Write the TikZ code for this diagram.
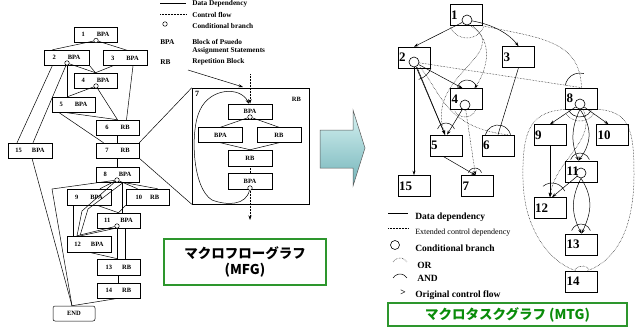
\documentclass[tikz,border=0pt]{standalone}
\usepackage{fontspec}
\setmainfont{Liberation Serif}
\newfontfamily\jpfont{Noto Sans CJK JP}
\usepackage{xcolor}
\usetikzlibrary{arrows.meta,calc}
\definecolor{framegreen}{RGB}{45,150,45}
\definecolor{titlegreen}{RGB}{10,140,10}
\definecolor{arrowtop}{RGB}{215,242,242}
\definecolor{arrowbot}{RGB}{115,180,185}

\begin{document}
\begin{tikzpicture}[x=1pt, y=-1pt, line width=0.5pt, >={Stealth[length=4.5pt,width=3pt]},
        mbox/.style={rectangle, draw, minimum width=43pt, minimum height=15pt, inner sep=0pt, font=\fontsize{6.5}{7}\selectfont\bfseries},
        ibox/.style={mbox, minimum width=44pt},
        tbox/.style={rectangle, draw, line width=0.6pt, minimum height=21pt, text width=30pt, inner sep=1pt, align=left, font=\fontsize{13}{13}\selectfont\bfseries},
        cond/.style={circle, draw, fill=white, inner sep=0pt, minimum size=4.5pt},
        tcond/.style={circle, draw, line width=0.6pt, inner sep=0pt, minimum size=10pt},
        ctrl/.style={densely dotted},
        leg/.style={anchor=west, inner sep=0pt, align=left, font=\fontsize{7.3}{8.5}\selectfont\bfseries},
        tleg/.style={anchor=west, inner sep=0pt, font=\fontsize{9.5}{10}\selectfont\bfseries},
        titlebox/.style={draw=framegreen, line width=1.2pt, inner sep=0pt, align=center, font=\jpfont\fontsize{13.5}{16}\selectfont\bfseries}]
        \useasboundingbox (0,0) rectangle (637,327);

        \node (m1) [mbox] at (95.5,34.5) {1\hspace{12pt}BPA};
        \node (m2) [mbox, minimum width=45pt] at (66.5,57.5) {2\hspace{12pt}BPA};
        \node (m3) [mbox, minimum width=44pt] at (125,58) {3\hspace{12pt}BPA};
        \node (m4) [mbox] at (95.5,80.5) {4\hspace{12pt}BPA};
        \node (m5) [mbox] at (73.5,104.5) {5\hspace{12pt}BPA};
        \node (m6) [mbox] at (117.5,127.5) {6\hspace{12pt}RB};
        \node (m7) [mbox] at (117.5,150.5) {7\hspace{12pt}RB};
        \node (m15) [mbox, minimum width=44pt] at (30,150.5) {15\hspace{10pt}BPA};
        \node (m8) [mbox] at (117.5,174.5) {8\hspace{12pt}BPA};
        \node (m9) [mbox, minimum width=44pt, minimum height=16pt] at (89,197) {9\hspace{12pt}BPA};
        \node (m10) [mbox, minimum height=16pt] at (147.5,197) {10\hspace{8pt}RB};
        \node (m11) [mbox] at (118.5,220.5) {11\hspace{10pt}BPA};
        \node (m12) [mbox, minimum width=44pt, minimum height=16pt] at (89,244) {12\hspace{10pt}BPA};
        \node (m13) [mbox, minimum height=16pt] at (118.5,267) {13\hspace{10pt}RB};
        \node (m14) [mbox] at (118.5,290.5) {14\hspace{10pt}RB};
        \node (mend) [mbox, rounded corners=2pt, minimum width=42pt] at (74,313.5) {END};

        \node (c1) [cond] at (96,40.5) {};
        \node (c2) [cond] at (67,63) {};
        \node (c4) [cond] at (96,86) {};
        \node (c8) [cond] at (117,180) {};
        \node (c11) [cond] at (117,226) {};
        \coordinate (bend8) at (52,189);
        \coordinate (k1) at (82,211);
        \coordinate (k2) at (88,209);

        \draw (c1) -- ([xshift=-14pt]m2.north);
        \draw (c1) -- ([xshift=2pt]m3.north);
        \draw (c2) -- (m4.north);
        \draw (m2.south east) -- (m4.north);
        \draw ([xshift=-12pt]m3.south) -- (m4.north);
        \draw (c2) -- (c2 |- m5.north);
        \draw (c2) -- ([xshift=3pt]m15.north);
        \draw ([xshift=-14pt]m2.south) -- ([xshift=-13pt]m15.north);
        \draw ([xshift=8pt]m3.south) -- ([xshift=9pt]m6.north);
        \draw (c4) -- ([xshift=-6pt]m5.north);
        \draw (c4) -- (m6.north);
        \draw ([xshift=-15pt]m5.south) -- ([xshift=-14pt]m7.north);
        \draw ([xshift=-10pt]m5.south) -- (m6.north);
        \draw (m6.south) -- (m7.north);
        \draw (m7.south) -- (m8.north);
        \draw ([xshift=2pt]m15.south) -- ([xshift=-2pt]mend.north);
        \draw (c8) -- (bend8) -- ([xshift=-2pt]mend.north);
        \draw (c8) -- ([xshift=11pt]m9.north);
        \draw (c8) -- ([xshift=-10pt]m10.north);
        \draw ([xshift=5pt]m8.south) -- ([xshift=10pt]m10.north);
        \draw ([xshift=5pt]m8.south) -- ([xshift=4pt]m11.north);
        \draw (c8) -- (k1) -- ([xshift=-12pt]m12.north);
        \draw ([xshift=6pt]m8.south) -- (k2) -- ([xshift=-9pt]m12.north);
        \draw ([xshift=-16pt]m9.south) -- ([xshift=-16pt]m12.north);
        \draw ([xshift=8pt]m9.south) -- (m11.north);
        \draw (m10.south west) -- (m11.north);
        \draw (c11) -- ([xshift=-12pt]m12.north);
        \draw ([xshift=-3pt]m11.south) -- ([xshift=-8pt]m12.north);
        \draw (c11) -- (c11 |- m13.north);
        \draw ([xshift=7pt]m11.south) -- ([xshift=7pt]m13.north);
        \draw (m12.south) -- ([xshift=-1pt]m13.north);
        \draw (m13.south) -- (m14.north);
        \draw (m14.south) -- ([xshift=-2pt]mend.north);

        \node (inset) [draw, minimum width=117pt, minimum height=116pt, inner sep=0pt] at (250.5,146) {};
        \draw (m7.north east) -- (inset.north west);
        \draw (m7.south east) -- (inset.south west);
        \node (in7) [anchor=north west, inner sep=3pt, font=\fontsize{8}{9}\selectfont\bfseries] at (inset.north west) {7};
        \node (inrb) [anchor=north east, inner sep=0pt, font=\fontsize{6.5}{7}\selectfont\bfseries] at ([xshift=-8pt,yshift=-9pt]inset.north east) {RB};
        \node (ia) [ibox] at (250,111.5) {BPA};
        \node (ib) [ibox] at (220.5,135) {BPA};
        \node (ic) [ibox] at (279,135) {RB};
        \node (id) [ibox, minimum height=16pt] at (250,158) {RB};
        \node (ie) [ibox, minimum height=16pt] at (250,181) {BPA};
        \node (ica) [cond] at (250,117) {};
        \node (ice) [cond] at (250,188) {};
        \coordinate (infrom) at (250,74);
        \coordinate (diagfrom) at (188,70);
        \coordinate (diagto) at (243,87);
        \coordinate (outto) at (250,220);
        \draw (ica) -- (ib.north);
        \draw (ica) -- (ic.north);
        \draw (ib.south) -- (id.north);
        \draw (ic.south) -- (id.north);
        \draw[ctrl] (id.south) -- (ie.north);
        \draw[ctrl, ->] (infrom) -- (ia.north);
        \draw[->] (diagfrom) -- (diagto);
        \draw[->] (ice) .. controls (246,205) and (228,206) .. (212,200) .. controls (192,188) and (190,130) .. (200,110) .. controls (210,88) and (240,86) .. ([xshift=-1pt]ia.north);
        \draw[ctrl, ->] (ice) -- (outto);

        \draw (160,3.5) -- (186,3.5);
        \node (lgdd) [leg] at (192,4) {Data Dependency};
        \draw[ctrl] (160,14) -- (186,14);
        \node (lgcf) [leg] at (192,15) {Control flow};
        \node (lgcb) [cond] at (165,24) {};
        \node (lgcbt) [leg] at (192,26) {Conditional branch};
        \node (lgbpa) [leg] at (160,42) {BPA};
        \node (lgbpat) [leg] at (192,46.5) {Block of Psuedo\\Assignment Statements};
        \node (lgrb) [leg] at (160,62) {RB};
        \node (lgrbt) [leg] at (192,62) {Repetition Block};

        \node (mfgbox) [titlebox, minimum width=162pt, minimum height=46pt] at (245,262) {マクロフローグラフ\\(MFG)};

        \path[draw=black!65, top color=arrowtop, bottom color=arrowbot] (320,130) -- (353,130) -- (353,110) -- (365,148) -- (353,186) -- (353,168) -- (320,168) -- cycle;

        \node (t1) [tbox] at (466,15) {1};
        \node (t2) [tbox] at (414,57.5) {2};
        \node (t3) [tbox] at (518.5,57) {3};
        \node (t4) [tbox] at (466.5,99) {4};
        \node (t5) [tbox] at (446,145.5) {5};
        \node (t6) [tbox] at (498,145.5) {6};
        \node (t7) [tbox] at (477.5,186) {7};
        \node (t15) [tbox] at (414,186) {15};
        \node (t8) [tbox] at (581.5,98.5) {8};
        \node (t9) [tbox] at (550,135) {9};
        \node (t10) [tbox] at (612.5,135) {10};
        \node (t11) [tbox] at (581.5,171.5) {11};
        \node (t12) [tbox] at (550,208) {12};
        \node (t13) [tbox] at (581.5,244.5) {13};
        \node (t14) [tbox] at (581.5,281.5) {14};
        \node (tc1) [tcond] at (467,20) {};
        \node (tc2) [tcond] at (414,62) {};
        \node (tc4) [tcond] at (465,105) {};
        \node (tc8) [tcond] at (580,104) {};
        \node (tc11) [tcond] at (581,173) {};

        \draw[->] (tc1) -- (t2.north);
        \draw[->] (tc1) .. controls (495,25) and (510,35) .. (t3.north);
        \draw[ctrl] (t1.south east) .. controls (540,38) and (580,40) .. (t8.north);
        \draw[ctrl, ->] ([xshift=3pt]tc1.south) .. controls (495,40) and (487,70) .. ([xshift=8pt]t4.north);
        \draw[ctrl, ->] ([xshift=5pt]tc1.south) .. controls (512,55) and (425,75) .. ([xshift=-1pt]t5.north);
        \draw[->] (tc2) -- (t15.north);
        \draw[->] (tc2) -- ([xshift=-4pt]t4.north);
        \draw[->] (tc2) -- ([xshift=-1pt]t5.north);
        \draw ([xshift=3pt]tc2.south) -- ([xshift=-1pt]t5.north);
        \draw[ctrl] (tc2) -- (t8.north);
        \draw[ctrl] ([xshift=6pt]tc2.south) .. controls (440,90) and (445,128) .. ([xshift=10pt]t6.north);
        \draw[->] (tc4) -- ([xshift=1pt]t5.north);
        \draw[ctrl, ->] (tc4) -- ([xshift=-2pt]t7.north);
        \draw[->] ([xshift=-3pt]t5.south) -- ([xshift=-2pt]t7.north);
        \draw (t3.south) -- (t6.north);
        \draw[->] (tc8) -- (t9.north);
        \draw[->] (tc8) -- ([xshift=-4pt]t10.north);
        \draw[->] (tc8.south) .. controls (570,130) and (572,145) .. ([xshift=-3pt]t11.north);
        \draw[->] (tc8.south) .. controls (594,130) and (590,145) .. ([xshift=-3pt]t11.north);
        \draw[ctrl, ->] ([xshift=3pt]tc8.south) .. controls (598,140) and (555,160) .. (t12.north);
        \draw[->] (t9.south) -- (t12.north);
        \draw[->] (tc11) -- ([xshift=2pt]t12.north);
        \draw[->] (tc11.south) .. controls (570,200) and (572,215) .. (t13.north);
        \draw[->] (tc11.south) .. controls (595,200) and (590,215) .. (t13.north);
        \draw[ctrl] ([xshift=-12pt]t8.south) .. controls (530,110) and (522,130) .. (523,180) .. controls (524,230) and (550,262) .. ([xshift=-6pt]t14.north);
        \draw[ctrl] ([xshift=13pt]t8.south) .. controls (630,110) and (634,130) .. (634,175) .. controls (634,235) and (612,262) .. ([xshift=6pt]t14.north);

        \draw[ctrl] (tc1.center) ++(25:18) arc[start angle=25, end angle=155, radius=18];
        \draw (tc2.center) ++(20:18) arc[start angle=20, end angle=75, radius=18];
        \draw (467,90) ++(195:10) arc[start angle=195, end angle=345, radius=10];
        \draw[ctrl] (tc4.center) ++(20:12) arc[start angle=20, end angle=150, radius=12];
        \draw (446,132) ++(200:9) arc[start angle=200, end angle=340, radius=9];
        \draw (498,138) ++(195:13) arc[start angle=195, end angle=345, radius=13];
        \draw (475,175) ++(200:7) arc[start angle=200, end angle=340, radius=7];
        \draw (580,88) ++(190:15) arc[start angle=190, end angle=285, radius=15];
        \draw (tc8.center) ++(30:13) arc[start angle=30, end angle=150, radius=13];
        \draw[ctrl] (tc8.center) ++(35:17) arc[start angle=35, end angle=145, radius=17];
        \draw (580,163) ++(200:10) arc[start angle=200, end angle=340, radius=10];
        \draw (552,197) ++(230:14) arc[start angle=230, end angle=335, radius=14];
        \draw (581,234) ++(200:10) arc[start angle=200, end angle=340, radius=10];
        \draw[ctrl] (582,275) ++(220:9) arc[start angle=220, end angle=320, radius=9];

        \draw (388,213) -- (408,213);
        \node (tlgdd) [tleg] at (415,217) {Data dependency};
        \draw[ctrl] (388,228) -- (408,228);
        \node (tlgec) [tleg, font=\fontsize{8}{9}\selectfont] at (415,233) {Extended control dependency};
        \node (tlgcb) [tcond, minimum size=9pt] at (395,245) {};
        \node (tlgcbt) [tleg] at (415,248) {Conditional branch};
        \draw[ctrl] (400,266) ++(210:8) arc[start angle=210, end angle=330, radius=8];
        \node (tlgor) [tleg] at (417,265) {OR};
        \draw (400,282) ++(210:8) arc[start angle=210, end angle=330, radius=8];
        \node (tlgand) [tleg] at (417,278) {AND};
        \node (tlggt) [tleg] at (400,293) {>};
        \node (tlgoc) [tleg] at (415,295) {Original control flow};

        \node (mtgbox) [titlebox, text=titlegreen, minimum width=239pt, minimum height=23pt] at (507.5,314.5) {マクロタスクグラフ (MTG)};
\end{tikzpicture}
\end{document}
